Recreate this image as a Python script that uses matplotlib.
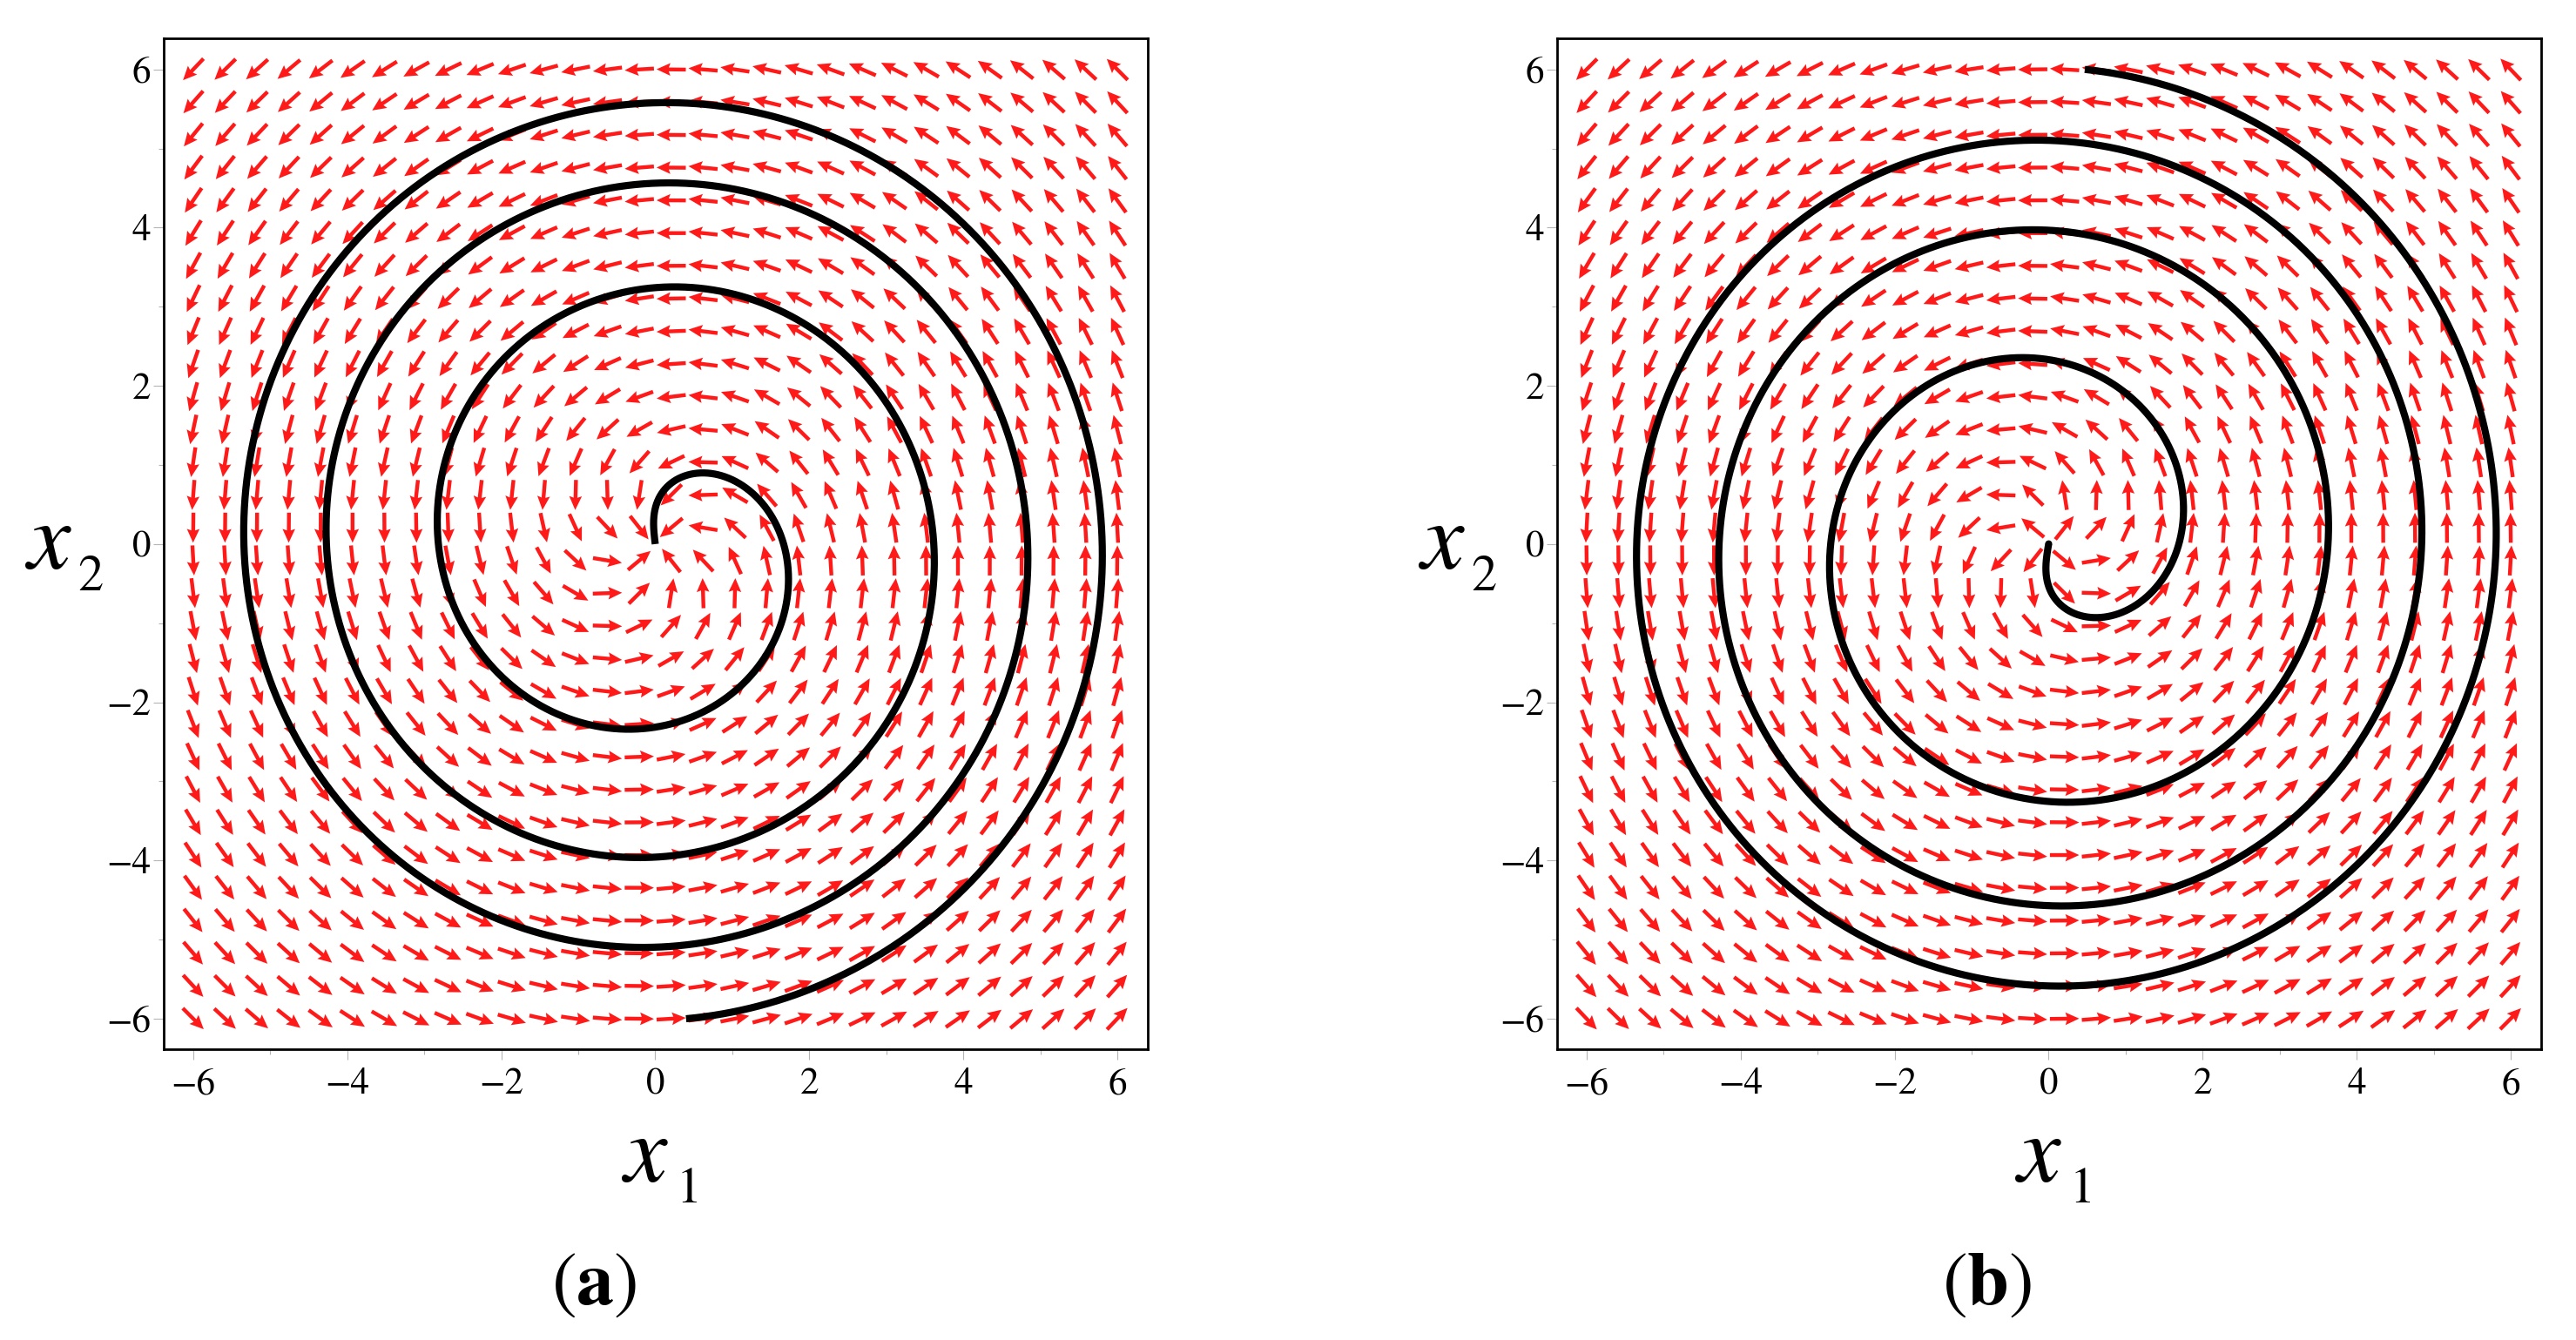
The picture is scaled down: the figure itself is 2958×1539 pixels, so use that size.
import numpy as np
import matplotlib
matplotlib.use('Agg')
import matplotlib.pyplot as plt

plt.rcParams['font.family'] = ['STIXGeneral', 'DejaVu Serif']
plt.rcParams['mathtext.fontset'] = 'stix'

# direction field grid
grid_lo, grid_hi, grid_n = -6.0, 6.0, 30

# system  x1' = -w*x2 + s*c*x1/r^2 ,  x2' = w*x1 + s*c*x2/r^2
omega = 1.0
c_rad = 0.82
sign_a = -1          # (a) stable focus
sign_b = 1           # (b) unstable focus

# trajectory start points and time direction
start_a = [0.40, -6.0]
start_b = [0.47, 6.0]
tdir_a = 1
tdir_b = -1

major_ticks = [-6, -4, -2, 0, 2, 4, 6]
minor_ticks = [-5, -3, -1, 1, 3, 5]
captions = ['a', 'b']

W, H = 2958, 1539
fig = plt.figure(figsize=(W / 100, H / 100), dpi=100)


def px(x, y):
    return x / W, 1 - y / H


def field(x1, x2, s):
    r2 = x1 ** 2 + x2 ** 2
    u = -omega * x2 + s * c_rad * x1 / r2
    v = omega * x1 + s * c_rad * x2 / r2
    return u, v


def trajectory(p0, s, tdir, dt=0.002, rmin=0.05):
    p = np.array(p0, float)
    h = tdir * dt
    pts = [p.copy()]

    def f(q):
        return np.array(field(q[0], q[1], s))

    while p @ p > rmin ** 2 and len(pts) < 100000:
        k1 = f(p)
        k2 = f(p + h / 2 * k1)
        k3 = f(p + h / 2 * k2)
        k4 = f(p + h * k3)
        p = p + h / 6 * (k1 + 2 * k2 + 2 * k3 + k4)
        pts.append(p.copy())
    pts.append(np.array([0.0, 0.0]))
    return np.array(pts)


g = np.linspace(grid_lo, grid_hi, grid_n)
X1, X2 = np.meshgrid(g, g)
arrow_len = 0.38

panels = [(sign_a, start_a, tdir_a, captions[0]),
          (sign_b, start_b, tdir_b, captions[1])]

for i, (s, p0, tdir, cap) in enumerate(panels):
    off = 1600 * i
    ax = fig.add_axes([(188.3 + off) / W, (H - 1205) / H, 1130 / W, 1160.7 / H])

    U, V = field(X1, X2, s)
    n = np.hypot(U, V)
    ax.quiver(X1, X2, U / n * arrow_len, V / n * arrow_len, color='#ff1a1a',
              angles='xy', scale_units='xy', scale=1, pivot='middle',
              width=0.0039, headwidth=3.3, headlength=3.6, headaxislength=3.2,
              zorder=2)

    tr = trajectory(p0, s, tdir)
    ax.plot(tr[:, 0], tr[:, 1], color='black', lw=5.9, zorder=3,
            solid_capstyle='butt')

    ax.set_xlim(-6.38, 6.40)
    ax.set_ylim(-6.385, 6.39)
    ax.set_xticks(major_ticks)
    ax.set_yticks(major_ticks)
    ax.set_xticks(minor_ticks, minor=True)
    ax.set_yticks(minor_ticks, minor=True)
    ax.tick_params(which='major', length=8.6, width=0.8, color='#b5b5b5',
                   labelsize=31)
    ax.tick_params(which='minor', length=4.3, width=0.8, color='#b5b5b5')
    ax.tick_params(axis='x', which='major', pad=7)
    ax.tick_params(axis='y', which='major', pad=2.5)
    for sp in ax.spines.values():
        sp.set_linewidth(2.0)

    # axis labels x1 and x2
    fig.text(*px(716.7 + off, 1357), 'x', fontsize=80, style='italic',
             ha='left', va='baseline')
    fig.text(*px(777 + off, 1381), '1', fontsize=42, ha='left', va='baseline')
    fig.text(*px(32 + off, 653), 'x', fontsize=80, style='italic',
             ha='left', va='baseline')
    fig.text(*px(89 + off, 678), '2', fontsize=42, ha='left', va='baseline')

    # panel caption
    fig.text(*px(682 + off, 1498), r'$\mathrm{(}\mathbf{%s}\mathrm{)}$' % cap,
             fontsize=62, ha='center', va='baseline')

fig.savefig('out.png', dpi=100)
